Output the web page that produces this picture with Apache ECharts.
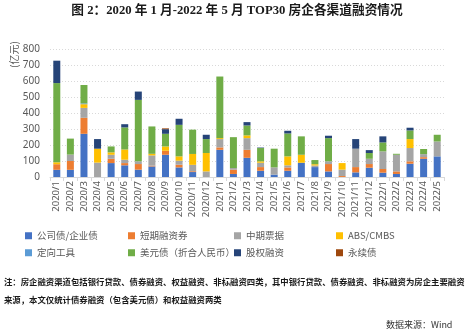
<!DOCTYPE html>
<html><head><meta charset="utf-8">
<script src="https://cdn.jsdelivr.net/npm/echarts@6/dist/echarts.min.js"></script>
<style>html,body{margin:0;padding:0;background:#fff}#c{width:474px;height:333px}</style>
</head><body><div id="c"></div>
<script>
const categories = ['2020/1','2020/2','2020/3','2020/4','2020/5','2020/6','2020/7','2020/8','2020/9','2020/10','2020/11','2020/12',
'2021/1','2021/2','2021/3','2021/4','2021/5','2021/6','2021/7','2021/8','2021/9','2021/10','2021/11','2021/12',
'2022/1','2022/2','2022/3','2022/4','2022/5'];
const corpBond   = [45,45,270,0,87,73,46,66,139,60,31,0,170,19,120,39,15,39,89,62,35,0,29,58,27,19,83,114,129];
const shortBill  = [35,55,100,0,27,14,35,5,25,17,5,0,15,27,50,23,0,21,0,0,46,6,33,23,23,16,15,10,0];
const midNote    = [0,40,62,90,25,21,17,64,0,25,40,35,52,10,73,27,45,13,0,10,17,40,115,33,110,104,83,19,93];
const absCmbs    = [12,0,23,87,15,64,0,10,27,27,68,115,6,0,17,9,0,56,50,8,0,41,0,0,0,0,56,0,0];
const directTool = [0,0,5,0,0,0,0,0,0,0,0,0,0,0,0,0,0,0,0,0,0,0,0,0,0,0,0,0,0];
const usdBond    = [495,100,115,0,37,138,384,171,79,197,152,87,385,193,62,83,117,143,115,26,145,0,0,36,56,6,54,32,42];
const equity     = [140,0,0,60,0,20,52,0,29,38,0,27,0,0,21,3,0,17,0,0,15,0,60,18,38,0,17,0,0];
const perpetual  = [0,0,0,0,0,0,0,0,5,0,0,0,0,0,0,0,0,0,0,0,0,0,0,0,0,0,0,0,0];
const yTicks = [0,100,200,300,400,500,600,700,800];

const names = ['公司债/企业债','短期融资券','中期票据','ABS/CMBS','定向工具','美元债（折合人民币）','股权融资','永续债'];
const colors = ['#4472C4','#ED7D31','#A5A5A5','#FFC000','#5B9BD5','#70AD47','#264478','#9E480E'];
const datas = [corpBond,shortBill,midNote,absCmbs,directTool,usdBond,equity,perpetual];

const legendPos = [[25,231],[128,231],[234,231],[336,231],[25,248],[128,248],[234,248],[336,248]];
const legends = names.map((n,i)=>({
  data:[n], left:legendPos[i][0], top:legendPos[i][1], itemWidth:7, itemHeight:7, itemGap:4,
  icon:'rect', textStyle:{fontSize:9.5,color:'#595959',fontFamily:'Noto Sans CJK SC'}, padding:0
}));

const chart = echarts.init(document.getElementById('c'),null,{renderer:'canvas'});
chart.setOption({
  animation:false,
  color:colors,
  grid:{left:50,right:30,top:49,bottom:156},
  legend:legends,
  xAxis:{type:'category',data:categories,
    axisLine:{lineStyle:{color:'#d9d9d9'}},
    axisTick:{show:true,length:4,lineStyle:{color:'#d9d9d9'}},
    axisLabel:{rotate:90,fontSize:9.5,color:'#595959',margin:4,fontFamily:'Noto Sans',interval:0}},
  yAxis:{type:'value',min:yTicks[0],max:yTicks[yTicks.length-1],interval:100,
    axisLine:{show:false},axisTick:{show:false},
    axisLabel:{fontSize:10,color:'#595959',margin:10,fontFamily:'Noto Sans'},
    splitLine:{lineStyle:{color:'#d9d9d9',type:[1,2]}}},
  series:names.map((n,i)=>({name:n,type:'bar',stack:'a',data:datas[i],barWidth:7,itemStyle:{color:colors[i]}})),
  graphic:[
    {type:'text',left:'center',top:4,style:{text:'图 2：2020 年 1 月-2022 年 5 月 TOP30 房企各渠道融资情况',
      font:'bold 12.7px "Liberation Serif","Noto Sans CJK SC"',fill:'#1a1a1a'}},
    {type:'text',x:9,y:68,rotation:Math.PI/2,style:{text:'(亿元)',font:'10px "Noto Sans CJK SC"',fill:'#595959'}},
    {type:'text',x:4,y:278,style:{text:'注：房企融资渠道包括银行贷款、债券融资、权益融资、非标融资四类，其中银行贷款、债券融资、非标融资为房企主要融资',
      font:'bold 8.4px "Noto Sans CJK SC"',fill:'#1a1a1a'}},
    {type:'text',x:4,y:296,style:{text:'来源，本文仅统计债券融资（包含美元债）和权益融资两类',
      font:'bold 8.4px "Noto Sans CJK SC"',fill:'#1a1a1a'}},
    {type:'text',x:386,y:320,style:{text:'数据来源：Wind',font:'9px "Noto Sans CJK SC"',fill:'#333'}}
  ]
});
</script></body></html>
